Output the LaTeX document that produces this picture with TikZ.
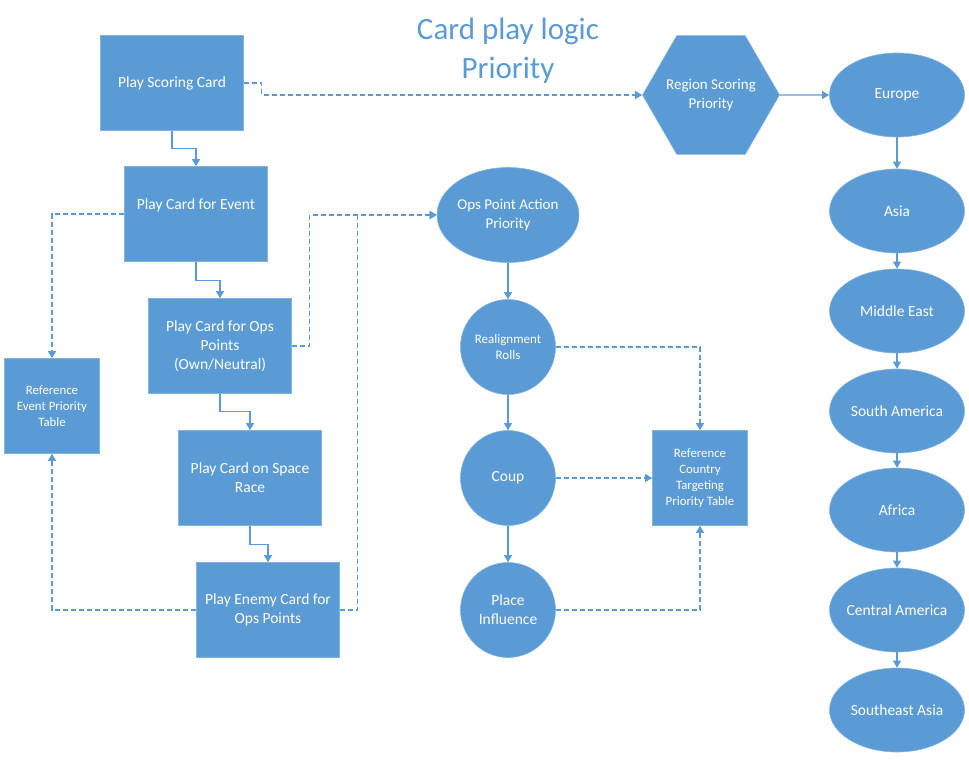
\documentclass[tikz,border=0pt]{standalone}
\usepackage{fontspec}
\setmainfont{Carlito}
\usetikzlibrary{shapes.geometric,arrows.meta}
\definecolor{cardblue}{RGB}{91,155,213}
\begin{document}
\begin{tikzpicture}[x=1pt, y=-1pt,
		shape base/.style={fill=cardblue, draw=cardblue!75!white, line width=0.6pt, text=white, align=center},
		cardbox/.style={shape base, rectangle, minimum width=143pt, minimum height=95pt, inner sep=0pt, font=\fontsize{15.5}{19}\selectfont},
		tablebox/.style={shape base, rectangle, minimum width=95pt, minimum height=95pt, inner sep=0pt, font=\fontsize{12.8}{16}\selectfont},
		actioncirc/.style={shape base, circle, minimum size=95pt, inner sep=0pt},
		regionell/.style={shape base, ellipse, minimum width=135pt, minimum height=84pt, inner xsep=-14pt, font=\fontsize{15.5}{18}\selectfont},
		flow/.style={draw=cardblue, line width=1.2pt, -{Triangle[length=7pt,width=8pt]}},
		refer/.style={flow, dash pattern=on 5pt off 3pt}]
		\useasboundingbox (0,0) rectangle (969,762);
		% Title
		\node[text=cardblue, align=center, font=\fontsize{31}{39}\selectfont] (title) at (508,51) {Card play logic\\Priority};
		% Card play chain on the left
		\node[cardbox] (score) at (172,83) {Play Scoring Card};
		\node[cardbox] (event) at (196,214) {Play Card for Event\\~};
		\node[cardbox] (ops) at (220,346) {Play Card for Ops\\Points\\(Own/Neutral)};
		\node[cardbox] (space) at (250,478) {Play Card on Space\\Race};
		\node[cardbox] (enemy) at (268,610) {Play Enemy Card for\\Ops Points};
		\node[tablebox] (eventtab) at (52,406) {Reference\\Event Priority\\Table};
		\draw[flow] (score.south) -- ++(0,18) -| (event.north);
		\draw[flow] (event.south) -- ++(0,19) -| (ops.north);
		\draw[flow] (ops.south) -- ++(0,18) -| (space.north);
		\draw[flow] (space.south) -- ++(0,19) -| (enemy.north);
		% Ops point actions in the middle
		\node[shape base, ellipse, minimum width=142pt, minimum height=95pt, inner xsep=-6pt, font=\fontsize{15}{19}\selectfont] (action) at (508,215) {Ops Point Action\\Priority};
		\node[actioncirc, font=\fontsize{13}{16}\selectfont] (realign) at (508,347) {Realignment\\Rolls};
		\node[actioncirc, font=\fontsize{15.5}{19}\selectfont] (coup) at (508,478) {Coup};
		\node[actioncirc, font=\fontsize{15.5}{19}\selectfont] (place) at (508,610) {Place\\Influence};
		\node[tablebox] (countrytab) at (700,478) {Reference\\Country\\Targeting\\Priority Table};
		\draw[flow] (action) -- (realign);
		\draw[flow] (realign) -- (coup);
		\draw[flow] (coup) -- (place);
		% Region scoring column on the right
		\node[shape base, regular polygon, regular polygon sides=6, minimum size=137pt, inner sep=-6pt, font=\fontsize{15}{19}\selectfont] (region) at (711,95) {Region Scoring\\Priority};
		\foreach \name/\y/\txt in {europe/95/Europe, asia/211/Asia, mideast/311/Middle East, samerica/411/South America, africa/510/Africa, camerica/610/Central America, seasia/710/Southeast Asia}
			\node[regionell] (\name) at (897,\y) {\txt};
		\draw[flow] (region) -- (europe);
		\foreach \a/\b in {europe/asia, asia/mideast, mideast/samerica, samerica/africa, africa/camerica, camerica/seasia}
			\draw[flow] (\a) -- (\b);
		% Dashed references
		\draw[refer] (score.east) -- ++(18,0) |- (region.west);
		\draw[refer] (event.west) -| (eventtab.north);
		\draw[refer] (enemy.west) -| (eventtab.south);
		\draw[refer] (ops.east) -- ++(18,0) |- (action.west);
		\draw[refer] (enemy.east) -- ++(18,0) |- (action.west);
		\draw[refer] (realign.east) -| (countrytab.north);
		\draw[refer] (coup) -- (countrytab);
		\draw[refer] (place.east) -| (countrytab.south);
	\end{tikzpicture}
\end{document}
